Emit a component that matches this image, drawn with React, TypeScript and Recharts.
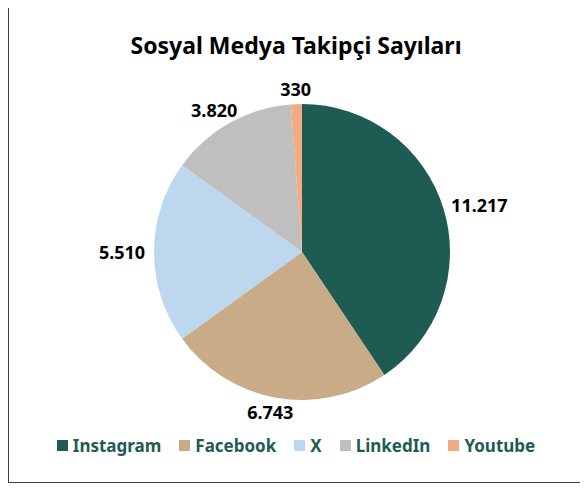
import React from 'react'
import { PieChart, Pie, Cell, Legend } from 'recharts'

const platforms = ['Instagram', 'Facebook', 'X', 'LinkedIn', 'Youtube']
const followers = [11217, 6743, 5510, 3820, 330]
const colors = ['#1e5c53', '#c9ab88', '#bdd7ee', '#bfbfbf', '#f4aa83']

const data = platforms.map((name, i) => ({ name, value: followers[i] }))

const FONT = '"Noto Sans", "Open Sans", sans-serif'
const RAD = Math.PI / 180

const fmt = (v: number) => String(v).replace(/\B(?=(\d{3})+(?!\d))/g, '.')

const renderLabel = (props: any) => {
  const { cx, cy, midAngle, outerRadius, value } = props
  const text = fmt(value)
  const c = Math.cos(-midAngle * RAD)
  const s = Math.sin(-midAngle * RAD)
  const r = outerRadius + 5
  const halfW = text.length * 5.4
  const halfH = 10
  const x = cx + r * c + halfW * c
  const y = cy + r * s + halfH * s
  return (
    <text
      x={x}
      y={y}
      textAnchor="middle"
      dominantBaseline="central"
      fontFamily={FONT}
      fontWeight={700}
      fontSize={18}
      fill="#000"
    >
      {text}
    </text>
  )
}

const renderLegend = () => (
  <div style={{ display: 'flex', justifyContent: 'center', gap: 18, fontFamily: FONT }}>
    {platforms.map((p, i) => (
      <div key={p} style={{ display: 'flex', alignItems: 'center' }}>
        <span style={{ width: 11, height: 11, background: colors[i], marginRight: 5, display: 'inline-block' }} />
        <span style={{ color: '#1e5c53', fontWeight: 700, fontSize: 17 }}>{p}</span>
      </div>
    ))}
  </div>
)

export default function App() {
  return (
    <div
      style={{
        position: 'relative',
        top: -7,
        width: 576,
        height: 482,
        border: '1px solid #404040',
        background: '#fff',
        boxSizing: 'border-box'
      }}
    >
      <div
        style={{
          position: 'absolute',
          top: 27,
          left: 0,
          width: '100%',
          textAlign: 'center',
          fontFamily: FONT,
          fontWeight: 700,
          fontSize: 23,
          color: '#000'
        }}
      >
        Sosyal Medya Takipçi Sayıları
      </div>
      <PieChart width={574} height={480} margin={{ top: 0, right: 0, bottom: 0, left: 0 }}>
        <Pie
          data={data}
          dataKey="value"
          nameKey="name"
          cx={293}
          cy={250}
          outerRadius={148}
          startAngle={90}
          endAngle={-270}
          stroke="none"
          label={renderLabel}
          labelLine={false}
          isAnimationActive={false}
        >
          {data.map((d, i) => (
            <Cell key={d.name} fill={colors[i]} />
          ))}
        </Pie>
        <Legend
          verticalAlign="bottom"
          content={renderLegend}
          wrapperStyle={{ bottom: 25 }}
        />
      </PieChart>
    </div>
  )
}
